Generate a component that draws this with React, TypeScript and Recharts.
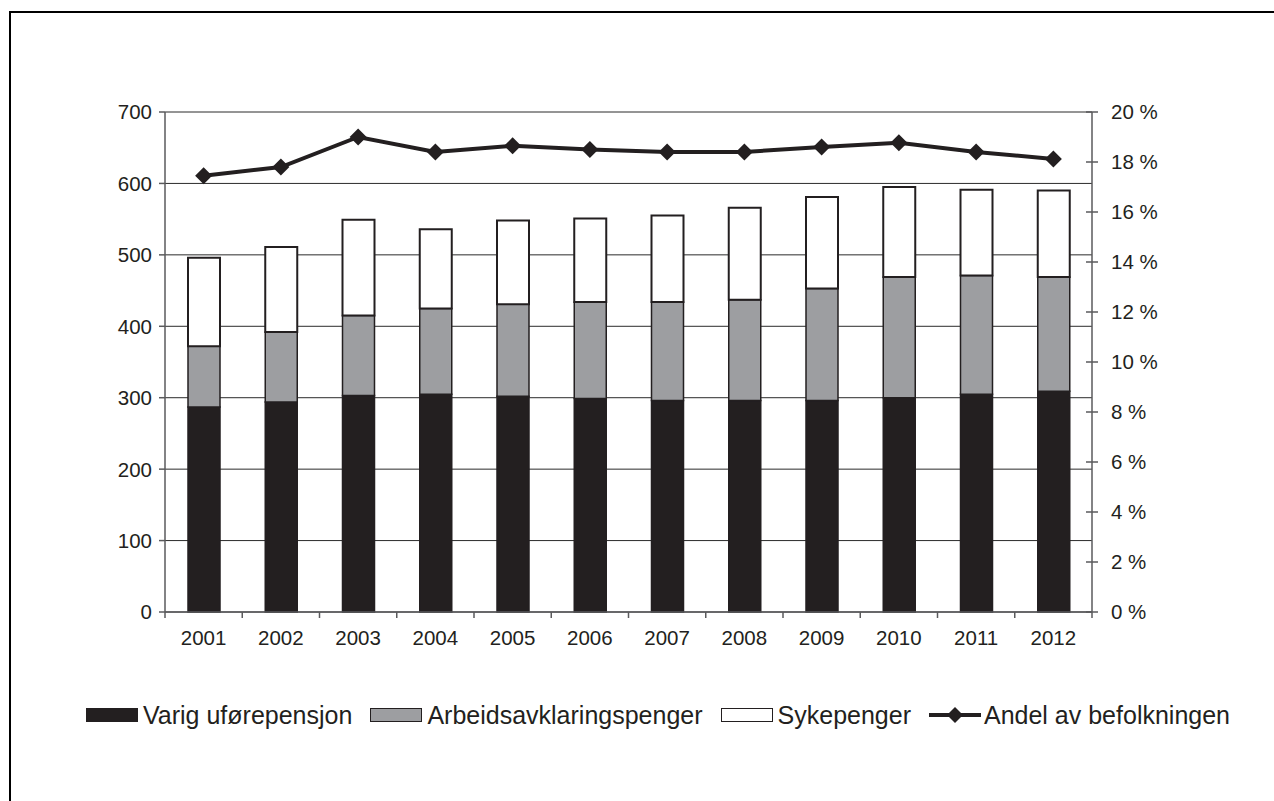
import React from "react";
import { ComposedChart, Bar, Line, XAxis, YAxis, CartesianGrid, Legend } from "recharts";

const years = ["2001", "2002", "2003", "2004", "2005", "2006", "2007", "2008", "2009", "2010", "2011", "2012"];
const varig = [287, 294, 303, 305, 302, 299, 296, 296, 296, 300, 305, 309];
const arbeid = [85, 98, 112, 120, 129, 135, 138, 141, 157, 169, 166, 160];
const syke = [124, 119, 134, 111, 117, 117, 121, 129, 128, 126, 120, 121];
const andel = [17.45, 17.8, 19.0, 18.4, 18.65, 18.5, 18.4, 18.4, 18.6, 18.77, 18.4, 18.12];
const leftTicks = [0, 100, 200, 300, 400, 500, 600, 700];
const rightTicks = [0, 2, 4, 6, 8, 10, 12, 14, 16, 18, 20];

const data = years.map((year, i) => ({
  year,
  varig: varig[i],
  arbeid: arbeid[i],
  syke: syke[i],
  andel: andel[i],
}));

const FONT = "'Liberation Sans', Arial, sans-serif";
const INK = "#231f20";
const AXIS = "#5a5a5c";
const BAND = (1092 - 165) / years.length;

const LeftTick = (props: any) => {
  const { x, y, payload } = props;
  return (
    <g>
      <line x1={x - 6} x2={x} y1={y} y2={y} stroke={AXIS} strokeWidth={1.5} />
      <text x={x - 13} y={y} dy="0.36em" textAnchor="end" fontSize={20.5} fill={INK} fontFamily={FONT}>
        {payload.value}
      </text>
    </g>
  );
};

const RightTick = (props: any) => {
  const { x, y, payload } = props;
  return (
    <g>
      <line x1={x - 6} x2={x + 6} y1={y} y2={y} stroke={AXIS} strokeWidth={1.5} />
      <text x={x + 19} y={y} dy="0.36em" textAnchor="start" fontSize={20.5} fill={INK} fontFamily={FONT}>
        {`${payload.value} %`}
      </text>
    </g>
  );
};

const YearTick = (props: any) => {
  const { x, y, payload, index } = props;
  const last = index === years.length - 1;
  return (
    <g>
      <line x1={x - BAND / 2} x2={x - BAND / 2} y1={y} y2={y + 6} stroke={AXIS} strokeWidth={1.5} />
      {last && <line x1={x + BAND / 2} x2={x + BAND / 2} y1={y} y2={y + 6} stroke={AXIS} strokeWidth={1.5} />}
      <text x={x} y={y + 26} dy="0.36em" textAnchor="middle" fontSize={20.5} fill={INK} fontFamily={FONT}>
        {payload.value}
      </text>
    </g>
  );
};

const Diamond = (props: any) => {
  const { cx, cy, index } = props;
  const s = 8.5;
  return (
    <path
      key={`d-${index}`}
      d={`M${cx},${cy - s} L${cx + s},${cy} L${cx},${cy + s} L${cx - s},${cy} Z`}
      fill={INK}
    />
  );
};

const swatch = (bg: string) => ({
  width: 52,
  height: 14,
  background: bg,
  border: `1.5px solid ${INK}`,
  boxSizing: "border-box" as const,
  marginRight: 5,
});

const renderLegend = () => (
  <div
    style={{
      display: "flex",
      alignItems: "center",
      paddingLeft: 86,
      gap: 18,
      height: 30,
      fontFamily: FONT,
      fontSize: 25,
      color: INK,
      whiteSpace: "nowrap",
    }}
  >
    <div style={{ display: "flex", alignItems: "center" }}>
      <div style={swatch(INK)} />
      <span>Varig uførepensjon</span>
    </div>
    <div style={{ display: "flex", alignItems: "center" }}>
      <div style={swatch("#9d9ea1")} />
      <span>Arbeidsavklaringspenger</span>
    </div>
    <div style={{ display: "flex", alignItems: "center" }}>
      <div style={swatch("#ffffff")} />
      <span>Sykepenger</span>
    </div>
    <div style={{ display: "flex", alignItems: "center" }}>
      <svg width={52} height={20} style={{ marginRight: 3 }}>
        <line x1={0} x2={52} y1={10} y2={10} stroke={INK} strokeWidth={4} />
        <path d="M26,2 L34,10 L26,18 L18,10 Z" fill={INK} />
      </svg>
      <span>Andel av befolkningen</span>
    </div>
  </div>
);

export default function App() {
  return (
    <div style={{ position: "absolute", left: 0, top: 0, width: 1274, height: 801, overflow: "hidden", background: "#fff" }}>
      <div
        style={{
          position: "absolute",
          left: 9,
          top: 11,
          width: 1400,
          height: 900,
          borderLeft: "2.5px solid #000",
          borderTop: "2.5px solid #000",
        }}
      />
      <div style={{ position: "absolute", left: 0, top: 0 }}>
        <ComposedChart
          width={1274}
          height={801}
          data={data}
          margin={{ top: 112, right: 102, left: 105, bottom: 159 }}
        >
          <CartesianGrid yAxisId="left" vertical={false} stroke="#2b2b2b" strokeWidth={1} />
          <XAxis
            dataKey="year"
            height={30}
            tickSize={0}
            tickMargin={0}
            tick={<YearTick />}
            tickLine={false}
            axisLine={{ stroke: AXIS, strokeWidth: 1.5 }}
            interval={0}
          />
          <YAxis
            yAxisId="left"
            width={60}
            domain={[0, 700]}
            ticks={leftTicks}
            tickSize={0}
            tickMargin={0}
            tickLine={false}
            tick={<LeftTick />}
            axisLine={{ stroke: AXIS, strokeWidth: 1.5 }}
            interval={0}
          />
          <YAxis
            yAxisId="right"
            orientation="right"
            width={80}
            domain={[0, 20]}
            ticks={rightTicks}
            tickSize={0}
            tickMargin={0}
            tickLine={false}
            tick={<RightTick />}
            axisLine={{ stroke: AXIS, strokeWidth: 1.5 }}
            interval={0}
          />
          <Legend
            layout="horizontal"
            verticalAlign="middle"
            align="center"
            content={renderLegend}
            wrapperStyle={{ top: 700, left: 0, width: 1274 }}
          />
          <Bar yAxisId="left" dataKey="varig" stackId="a" fill={INK} stroke={INK} strokeWidth={1.5} barSize={32} isAnimationActive={false} />
          <Bar yAxisId="left" dataKey="arbeid" stackId="a" fill="#9d9ea1" stroke={INK} strokeWidth={1.5} barSize={32} isAnimationActive={false} />
          <Bar yAxisId="left" dataKey="syke" stackId="a" fill="#ffffff" stroke={INK} strokeWidth={2} barSize={32} isAnimationActive={false} />
          <Line
            yAxisId="right"
            dataKey="andel"
            stroke={INK}
            strokeWidth={4}
            dot={Diamond}
            activeDot={false}
            isAnimationActive={false}
          />
        </ComposedChart>
      </div>
    </div>
  );
}
